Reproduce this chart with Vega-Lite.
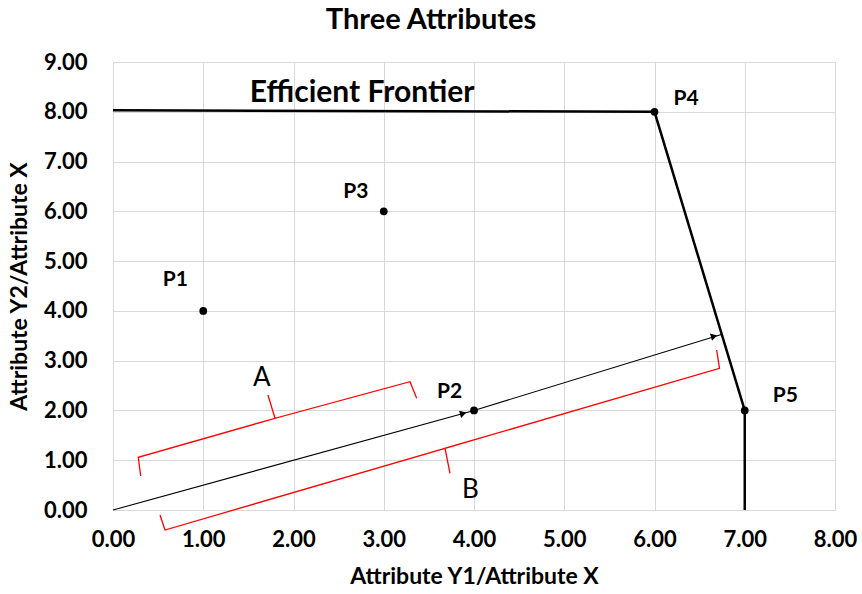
{
  "$schema": "https://vega.github.io/schema/vega-lite/v6.json",
  "autosize": "none",
  "width": 722,
  "height": 448,
  "padding": {"left": 113, "top": 62, "right": 27, "bottom": 84},
  "background": "white",
  "config": {
    "view": {"stroke": null},
    "font": "Lato",
    "axis": {
      "gridColor": "#d9d9d9",
      "gridWidth": 1,
      "domainColor": "#d9d9d9",
      "ticks": false,
      "labelFont": "Lato",
      "labelFontWeight": "bold",
      "labelFontSize": 22,
      "labelColor": "#000000",
      "labelFlush": false,
      "labelOverlap": false,
      "titleFont": "Lato",
      "titleFontWeight": "bold",
      "titleFontSize": 23,
      "titleColor": "#000000"
    }
  },
  "title": {
    "text": "Three Attributes",
    "font": "Lato",
    "fontSize": 29,
    "fontWeight": "bold",
    "color": "#000000",
    "anchor": "middle",
    "dx": -43,
    "offset": 16
  },
  "datasets": {
    "frontier": [
      {"x": 0, "y": 8.03, "o": 0},
      {"x": 6, "y": 8.0, "o": 1},
      {"x": 7, "y": 2, "o": 2},
      {"x": 7, "y": 0, "o": 3}
    ],
    "arrow": [
      {"x": 0, "y": 0, "o": 0},
      {"x": 4, "y": 2, "o": 1},
      {"x": 6.75, "y": 3.53, "o": 2}
    ],
    "heads": [
      {"x": 3.88, "y": 1.94},
      {"x": 6.66, "y": 3.49}
    ],
    "brackets": [
      {"b": "A", "x": 0.307, "y": 0.683, "o": 0},
      {"b": "A", "x": 0.28, "y": 1.059, "o": 1},
      {"b": "A", "x": 1.795, "y": 1.842, "o": 2},
      {"b": "A", "x": 1.717, "y": 2.31, "o": 3},
      {"b": "A", "x": 1.795, "y": 1.842, "o": 4},
      {"b": "A", "x": 3.291, "y": 2.577, "o": 5},
      {"b": "A", "x": 3.365, "y": 2.244, "o": 6},
      {"b": "B", "x": 0.521, "y": -0.1, "o": 0},
      {"b": "B", "x": 0.576, "y": -0.402, "o": 1},
      {"b": "B", "x": 3.679, "y": 1.239, "o": 2},
      {"b": "B", "x": 3.734, "y": 0.737, "o": 3},
      {"b": "B", "x": 3.679, "y": 1.239, "o": 4},
      {"b": "B", "x": 6.72, "y": 2.846, "o": 5},
      {"b": "B", "x": 6.689, "y": 3.214, "o": 6}
    ],
    "points": [
      {"name": "P1", "x": 1, "y": 4, "lx": 0.69, "ly": 4.62},
      {"name": "P2", "x": 4, "y": 2, "lx": 3.73, "ly": 2.37},
      {"name": "P3", "x": 3, "y": 6, "lx": 2.69, "ly": 6.38},
      {"name": "P4", "x": 6, "y": 8, "lx": 6.35, "ly": 8.25},
      {"name": "P5", "x": 7, "y": 2, "lx": 7.45, "ly": 2.3}
    ],
    "notes": [
      {"t": "Efficient Frontier", "x": 2.76, "y": 8.38, "s": "big"},
      {"t": "A", "x": 1.65, "y": 2.65, "s": "letter"},
      {"t": "B", "x": 3.96, "y": 0.4, "s": "letter"}
    ]
  },
  "layer": [
    {
      "data": {"name": "frontier"},
      "mark": {"type": "line", "color": "#000000", "strokeWidth": 2.5},
      "encoding": {
        "x": {"field": "x", "type": "quantitative", "scale": {"domain": [0, 8], "nice": false},
          "axis": {"title": "Attribute Y1/Attribute X", "values": [0,1,2,3,4,5,6,7,8], "format": ".2f", "labelPadding": 19, "titlePadding": 15}},
        "y": {"field": "y", "type": "quantitative", "scale": {"domain": [0, 9], "nice": false},
          "axis": {"title": "Attribute Y2/Attribute X", "values": [0,1,2,3,4,5,6,7,8,9], "format": ".2f", "labelPadding": 26, "titlePadding": 12}},
        "order": {"field": "o"}
      }
    },
    {
      "data": {"name": "arrow"},
      "mark": {"type": "line", "color": "#000000", "strokeWidth": 1.1},
      "encoding": {
        "x": {"field": "x", "type": "quantitative"},
        "y": {"field": "y", "type": "quantitative"},
        "order": {"field": "o"}
      }
    },
    {
      "data": {"name": "heads"},
      "mark": {"type": "point", "shape": "triangle-right", "filled": true, "color": "#000000", "size": 55, "angle": -16, "opacity": 1},
      "encoding": {
        "x": {"field": "x", "type": "quantitative"},
        "y": {"field": "y", "type": "quantitative"}
      }
    },
    {
      "data": {"name": "brackets"},
      "mark": {"type": "line", "color": "#ff0000", "strokeWidth": 1.3, "clip": false},
      "encoding": {
        "x": {"field": "x", "type": "quantitative"},
        "y": {"field": "y", "type": "quantitative"},
        "detail": {"field": "b"},
        "order": {"field": "o"}
      }
    },
    {
      "data": {"name": "points"},
      "mark": {"type": "point", "shape": "circle", "filled": true, "color": "#000000", "size": 60, "opacity": 1},
      "encoding": {
        "x": {"field": "x", "type": "quantitative"},
        "y": {"field": "y", "type": "quantitative"}
      }
    },
    {
      "data": {"name": "points"},
      "mark": {"type": "text", "font": "Lato", "fontWeight": "bold", "fontSize": 21, "color": "#000000", "align": "center", "baseline": "middle"},
      "encoding": {
        "x": {"field": "lx", "type": "quantitative"},
        "y": {"field": "ly", "type": "quantitative"},
        "text": {"field": "name"}
      }
    },
    {
      "data": {"name": "notes"},
      "transform": [{"filter": "datum.s == 'big'"}],
      "mark": {"type": "text", "font": "Lato", "fontWeight": "bold", "fontSize": 30, "color": "#000000", "align": "center", "baseline": "middle"},
      "encoding": {
        "x": {"field": "x", "type": "quantitative"},
        "y": {"field": "y", "type": "quantitative"},
        "text": {"field": "t"}
      }
    },
    {
      "data": {"name": "notes"},
      "transform": [{"filter": "datum.s == 'letter'"}],
      "mark": {"type": "text", "font": "Lato", "fontSize": 26, "color": "#000000", "align": "center", "baseline": "middle", "clip": false},
      "encoding": {
        "x": {"field": "x", "type": "quantitative"},
        "y": {"field": "y", "type": "quantitative"},
        "text": {"field": "t"}
      }
    }
  ]
}
